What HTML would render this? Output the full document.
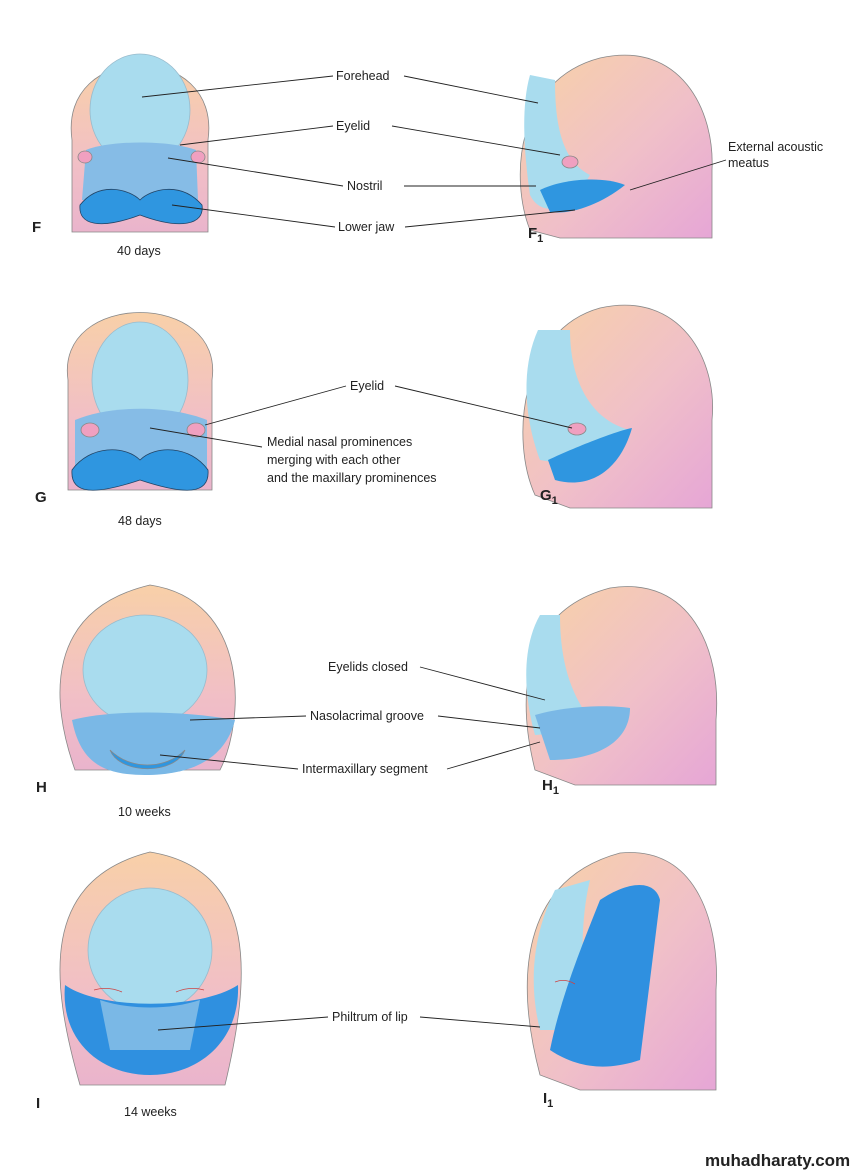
<!DOCTYPE html>
<html><head><meta charset="utf-8"><style>
html,body{margin:0;padding:0;background:#fff;}
svg{display:block}
text{font-family:"Liberation Sans",Arial,sans-serif;fill:#222;}
.l{font-size:12.5px}
.b{font-size:15px;font-weight:bold}
</style></head><body>
<svg width="856" height="1173" viewBox="0 0 856 1173" xmlns="http://www.w3.org/2000/svg">
<defs>
<linearGradient id="sk" x1="0" y1="0" x2="1" y2="1">
<stop offset="0" stop-color="#f8d2a6"/><stop offset="0.55" stop-color="#f0c0c8"/><stop offset="1" stop-color="#e6a6d6"/>
</linearGradient>
<linearGradient id="sk2" x1="0" y1="0" x2="0" y2="1">
<stop offset="0" stop-color="#f8d0a8"/><stop offset="0.6" stop-color="#f1bfc6"/><stop offset="1" stop-color="#eab4cc"/>
</linearGradient>
</defs>
<g stroke="#888" stroke-width="0.8">
<!-- ROW F front -->
<path d="M72,232 L72,140 C58,40 222,40 208,140 L208,232 Z" fill="url(#sk2)"/>
<ellipse cx="140" cy="110" rx="50" ry="56" fill="#a9dcee" stroke="#9bc"/>
<path d="M86,150 C110,140 170,140 196,150 L198,200 L82,200 Z" fill="#86bce6" stroke="none"/>
<path d="M80,205 C100,180 130,190 140,200 C150,190 180,180 202,205 C205,225 180,230 140,215 C100,230 78,225 80,205 Z" fill="#2f96e0" stroke="#246"/>
<ellipse cx="85" cy="157" rx="7" ry="6" fill="#f0a0c0"/><ellipse cx="198" cy="157" rx="7" ry="6" fill="#f0a0c0"/>
<!-- F side -->
<path d="M530,230 C510,180 515,80 600,58 C680,40 715,110 712,170 L712,238 L560,238 Z" fill="url(#sk)"/>
<path d="M530,75 C520,110 525,160 530,195 C540,215 560,210 575,200 L590,175 C560,160 555,120 555,80 Z" fill="#a9dcee" stroke="none"/>
<path d="M540,190 C560,180 600,175 625,185 C600,205 570,215 550,212 Z" fill="#2f96e0" stroke="none"/>
<ellipse cx="570" cy="162" rx="8" ry="6" fill="#f0a0c0"/>
<!-- ROW G front -->
<path d="M68,490 L68,380 C55,290 225,290 212,380 L212,490 Z" fill="url(#sk2)"/>
<ellipse cx="140" cy="380" rx="48" ry="58" fill="#a9dcee" stroke="#9bc"/>
<path d="M75,420 C110,405 170,405 207,420 L207,470 L75,470 Z" fill="#86bce6" stroke="none"/>
<path d="M72,470 C90,445 125,445 140,460 C155,445 190,445 208,470 C210,495 185,495 140,480 C95,495 70,495 72,470 Z" fill="#2f96e0" stroke="#246"/>
<ellipse cx="90" cy="430" rx="9" ry="7" fill="#f0a0c0"/><ellipse cx="196" cy="430" rx="9" ry="7" fill="#f0a0c0"/>
<!-- G side -->
<path d="M535,495 C510,440 520,330 600,308 C680,290 718,360 712,420 L712,508 L570,508 Z" fill="url(#sk)"/>
<path d="M538,330 C520,370 525,420 540,460 L600,470 L630,430 C590,420 570,380 570,330 Z" fill="#a9dcee" stroke="none"/>
<path d="M548,460 C580,445 620,430 632,428 C620,470 590,490 555,480 Z" fill="#2f96e0" stroke="none"/>
<ellipse cx="577" cy="429" rx="9" ry="6" fill="#f0a0c0"/>
<!-- ROW H front -->
<path d="M75,770 C50,700 45,610 150,585 C250,600 245,720 220,770 Z" fill="url(#sk2)"/>
<ellipse cx="145" cy="670" rx="62" ry="55" fill="#a9dcee" stroke="#9bc"/>
<path d="M72,720 C110,710 180,710 235,720 C225,760 190,775 145,775 C100,775 80,760 72,720 Z" fill="#7ab8e6" stroke="none"/>
<path d="M110,750 C130,770 165,770 185,750 C175,775 120,775 110,750 Z" fill="#2f96e0"/>
<!-- H side -->
<path d="M535,770 C515,690 525,610 610,588 C690,575 722,650 716,720 L716,785 L575,785 Z" fill="url(#sk)"/>
<path d="M540,615 C520,650 525,700 535,735 L600,730 C570,700 560,660 560,615 Z" fill="#a9dcee" stroke="none"/>
<path d="M535,715 C570,705 610,705 630,708 C630,740 600,760 550,760 Z" fill="#7ab8e6" stroke="none"/>
<!-- ROW I front -->
<path d="M80,1085 C50,980 40,880 150,852 C260,870 250,980 225,1085 Z" fill="url(#sk2)"/>
<ellipse cx="150" cy="950" rx="62" ry="62" fill="#a9dcee" stroke="#9bc"/>
<path d="M65,985 C100,1010 200,1010 238,985 C240,1040 200,1075 150,1075 C100,1075 60,1040 65,985 Z" fill="#2f90e0" stroke="none"/>
<path d="M100,1000 C130,1010 170,1010 200,1000 L190,1050 L110,1050 Z" fill="#7ab8e6" stroke="none"/>
<path d="M94,990 Q108,986 122,992 M176,992 Q190,986 204,990" stroke="#c44" fill="none"/>
<!-- I side -->
<path d="M540,1075 C515,980 520,880 620,853 C700,845 720,930 716,990 L716,1090 L580,1090 Z" fill="url(#sk)"/>
<path d="M555,890 C530,940 530,990 540,1030 L590,1030 C580,980 580,920 590,880 Z" fill="#a9dcee" stroke="none"/>
<path d="M600,900 C630,880 655,880 660,900 L640,1060 C610,1070 580,1070 550,1050 C560,1000 580,950 600,900 Z" fill="#2f90e0" stroke="none"/>
<path d="M555,982 Q565,978 575,984" stroke="#c44" fill="none"/>
</g>
<!-- leader lines -->
<g stroke="#222" stroke-width="0.9" fill="none">
<line x1="142" y1="97" x2="333" y2="76"/><line x1="404" y1="76" x2="538" y2="103"/>
<line x1="180" y1="145" x2="333" y2="126"/><line x1="392" y1="126" x2="560" y2="155"/>
<line x1="168" y1="158" x2="343" y2="186"/><line x1="404" y1="186" x2="536" y2="186"/>
<line x1="172" y1="205" x2="335" y2="227"/><line x1="405" y1="227" x2="575" y2="210"/>
<line x1="726" y1="160" x2="630" y2="190"/>
<line x1="205" y1="425" x2="346" y2="386"/><line x1="395" y1="386" x2="572" y2="428"/>
<line x1="150" y1="428" x2="262" y2="447"/>
<line x1="420" y1="667" x2="545" y2="700"/>
<line x1="190" y1="720" x2="306" y2="716"/><line x1="438" y1="716" x2="540" y2="728"/>
<line x1="160" y1="755" x2="298" y2="769"/><line x1="447" y1="769" x2="540" y2="742"/>
<line x1="158" y1="1030" x2="328" y2="1017"/><line x1="420" y1="1017" x2="540" y2="1027"/>
</g>
<text class="l" x="336" y="80">Forehead</text>
<text class="l" x="336" y="130">Eyelid</text>
<text class="l" x="347" y="190">Nostril</text>
<text class="l" x="338" y="231">Lower jaw</text>
<text class="l" x="728" y="151">External acoustic</text>
<text class="l" x="728" y="167">meatus</text>
<text class="b" x="32" y="232">F</text>
<text class="b" x="528" y="238">F<tspan font-size="11" dy="4">1</tspan></text>
<text class="l" x="117" y="255">40 days</text>
<text class="l" x="350" y="390">Eyelid</text>
<text class="l" x="267" y="446">Medial nasal prominences</text>
<text class="l" x="267" y="464">merging with each other</text>
<text class="l" x="267" y="482">and the maxillary prominences</text>
<text class="b" x="35" y="502">G</text>
<text class="b" x="540" y="500">G<tspan font-size="11" dy="4">1</tspan></text>
<text class="l" x="118" y="525">48 days</text>
<text class="l" x="328" y="671">Eyelids closed</text>
<text class="l" x="310" y="720">Nasolacrimal groove</text>
<text class="l" x="302" y="773">Intermaxillary segment</text>
<text class="b" x="36" y="792">H</text>
<text class="b" x="542" y="790">H<tspan font-size="11" dy="4">1</tspan></text>
<text class="l" x="118" y="816">10 weeks</text>
<text class="l" x="332" y="1021">Philtrum of lip</text>
<text class="b" x="36" y="1108">I</text>
<text class="b" x="543" y="1103">I<tspan font-size="11" dy="4">1</tspan></text>
<text class="l" x="124" y="1116">14 weeks</text>
<text x="705" y="1166" font-size="17" font-weight="bold" fill="#111">muhadharaty.com</text>
</svg>
</body></html>
